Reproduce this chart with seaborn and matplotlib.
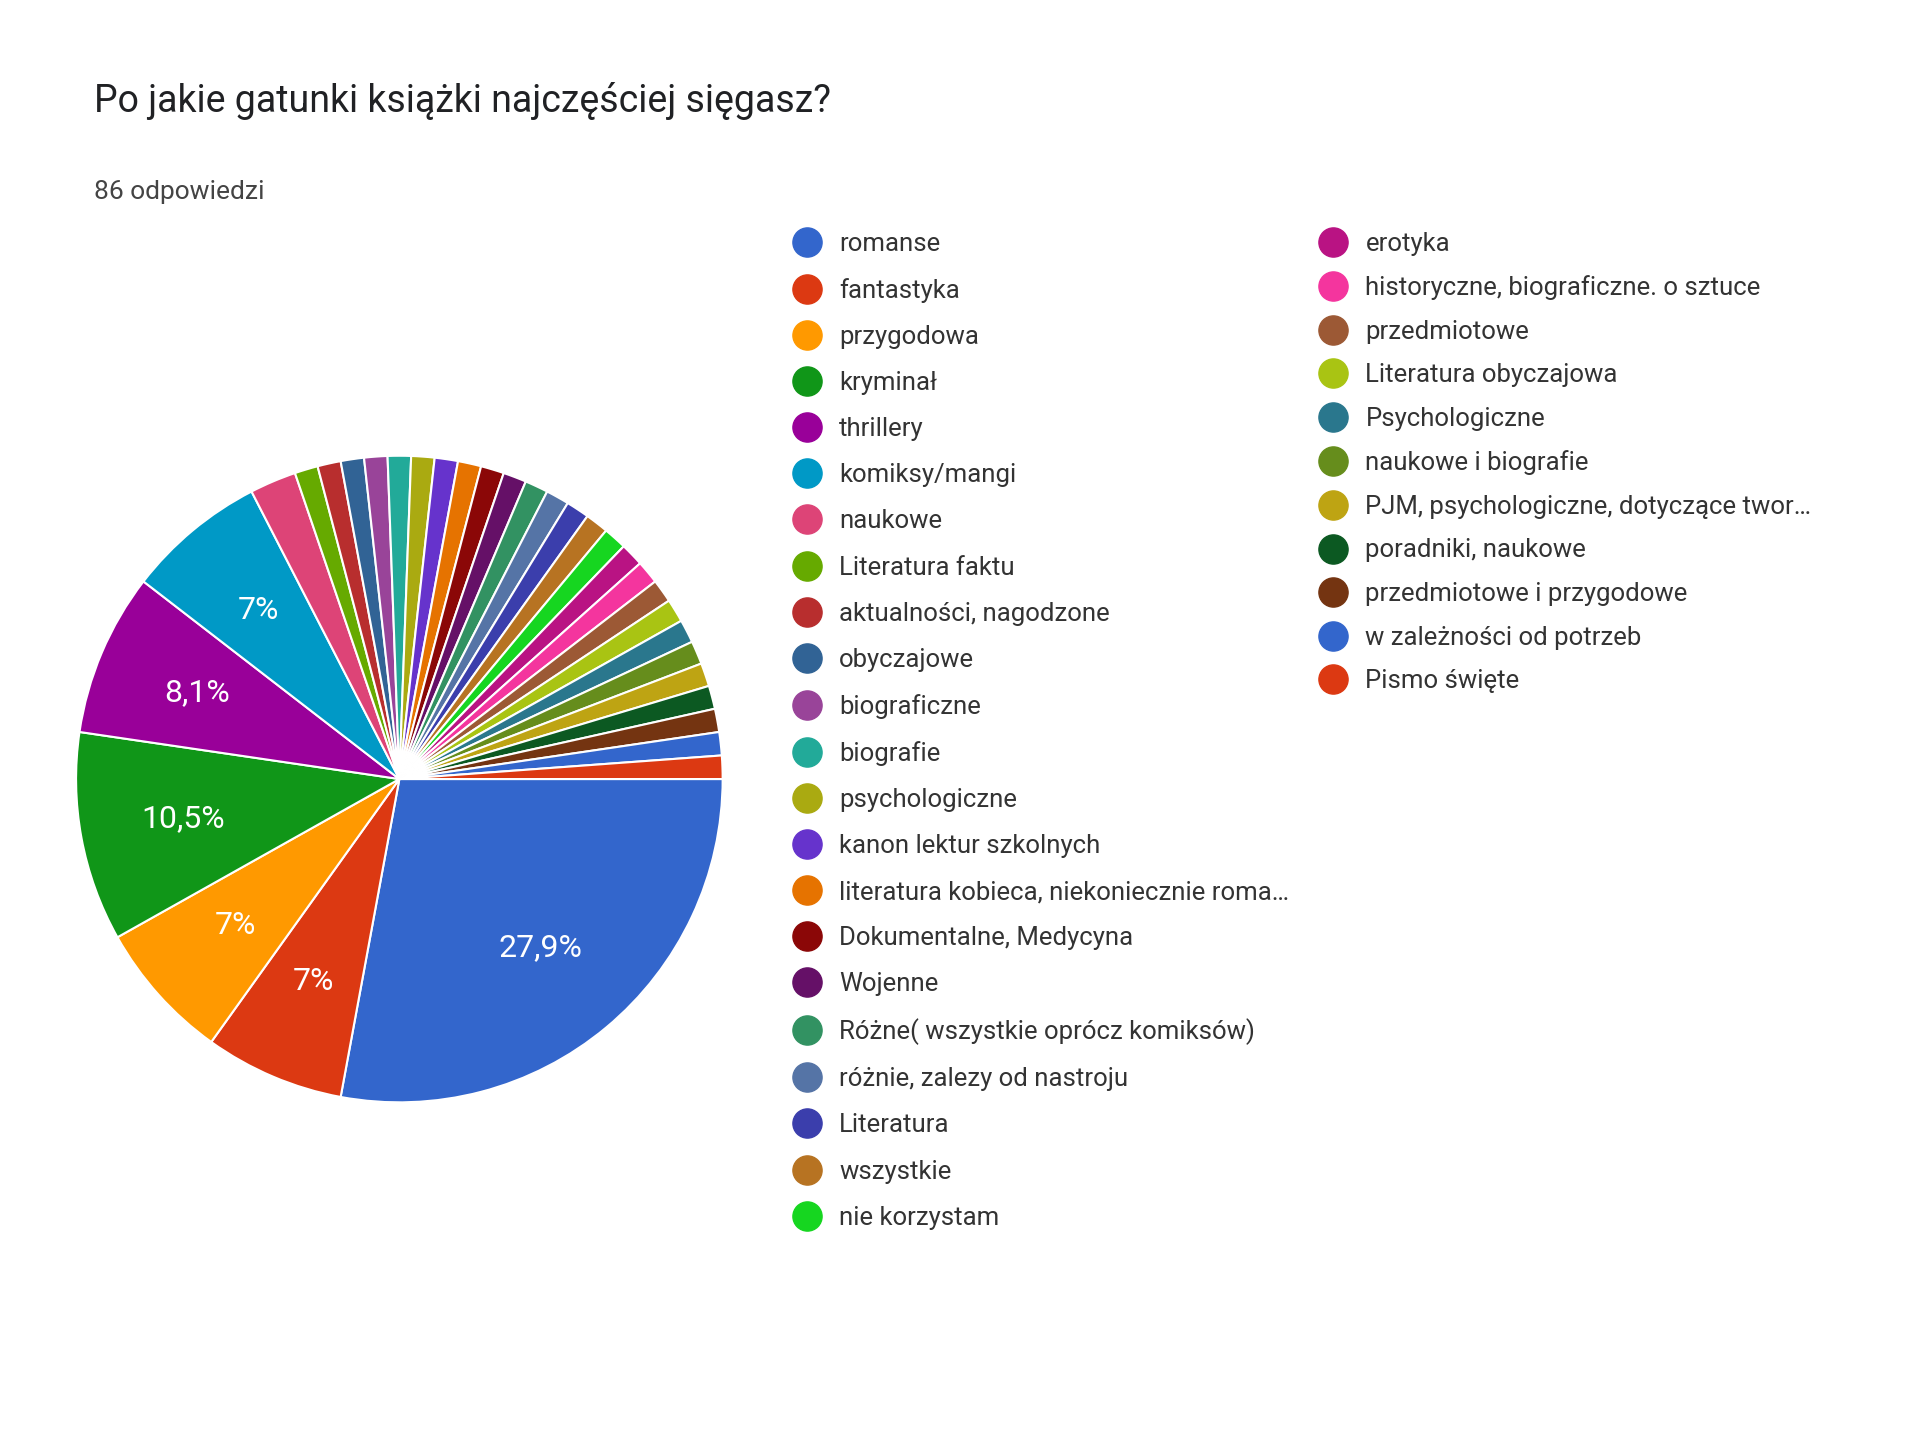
import matplotlib
matplotlib.use("Agg")
import matplotlib.pyplot as plt
import seaborn as sns
from matplotlib.lines import Line2D

sns.set_theme(style="white")
plt.rcParams['font.family'] = ['Roboto', 'DejaVu Sans']

labels = ["romanse", "fantastyka", "przygodowa", "kryminał", "thrillery", "komiksy/mangi",
          "naukowe", "Literatura faktu", "aktualności, nagodzone", "obyczajowe", "biograficzne",
          "biografie", "psychologiczne", "kanon lektur szkolnych",
          "literatura kobieca, niekoniecznie roma…", "Dokumentalne, Medycyna", "Wojenne",
          "Różne( wszystkie oprócz komiksów)", "różnie, zalezy od nastroju", "Literatura",
          "wszystkie", "nie korzystam", "erotyka", "historyczne, biograficzne. o sztuce",
          "przedmiotowe", "Literatura obyczajowa", "Psychologiczne", "naukowe i biografie",
          "PJM, psychologiczne, dotyczące twor…", "poradniki, naukowe",
          "przedmiotowe i przygodowe", "w zależności od potrzeb", "Pismo święte"]
values = [24, 6, 6, 9, 7, 6, 2] + [1] * 26
colors = ["#3366cc", "#dc3912", "#ff9900", "#109618", "#990099", "#0099c6", "#dd4477",
          "#66aa00", "#b82e2e", "#316395", "#994499", "#22aa99", "#aaaa11", "#6633cc",
          "#e67300", "#8b0707", "#651067", "#329262", "#5574a6", "#3b3eac", "#b77322",
          "#16d620", "#b91383", "#f4359e", "#9c5935", "#a9c413", "#2a778d", "#668d1c",
          "#bea413", "#0c5922", "#743411", "#3366cc", "#dc3912"]

fig = plt.figure(figsize=(19.2, 14.4), dpi=100)
fig.patch.set_facecolor("white")
# centre ~ (0.208, 0.459 from bottom), radius ~0.166 width
ax = fig.add_axes([0.208 - 0.172, 0.459 - 0.229, 0.344, 0.458])

def fmt(p):
    if p < 5:
        return ""
    s = f"{p:.1f}".replace(".", ",")
    s = s[:-2] if s.endswith(",0") else s
    return s + "%"

wedges, texts, autotexts = ax.pie(values, colors=colors, startangle=0, counterclock=False,
                                  autopct=fmt, pctdistance=0.68, radius=1.0,
                                  wedgeprops=dict(edgecolor="white", linewidth=1.5),
                                  textprops=dict(color="white", fontsize=23))
ax.set_aspect("equal")
ax.set_xlim(-1.02, 1.02)
ax.set_ylim(-1.02, 1.02)

fig.text(0.049, 0.922, "Po jakie gatunki książki najczęściej sięgasz?", fontsize=27, color="#202124")
fig.text(0.049, 0.862, "86 odpowiedzi", fontsize=19, color="#444444")

def handles(idx):
    return [Line2D([], [], marker="o", linestyle="", markersize=21,
                   markerfacecolor=colors[i], markeredgecolor=colors[i]) for i in idx]

c1 = list(range(22))
c2 = list(range(22, 33))
fig.legend(handles(c1), [labels[i] for i in c1], loc="upper left",
           bbox_to_anchor=(0.395, 0.855), frameon=False, fontsize=18.5,
           labelspacing=0.86, handletextpad=0.25, labelcolor="#333333")
fig.legend(handles(c2), [labels[i] for i in c2], loc="upper left",
           bbox_to_anchor=(0.669, 0.855), frameon=False, fontsize=18.5,
           labelspacing=0.76, handletextpad=0.25, labelcolor="#333333")

fig.savefig("out.png", dpi=100, facecolor="white")
